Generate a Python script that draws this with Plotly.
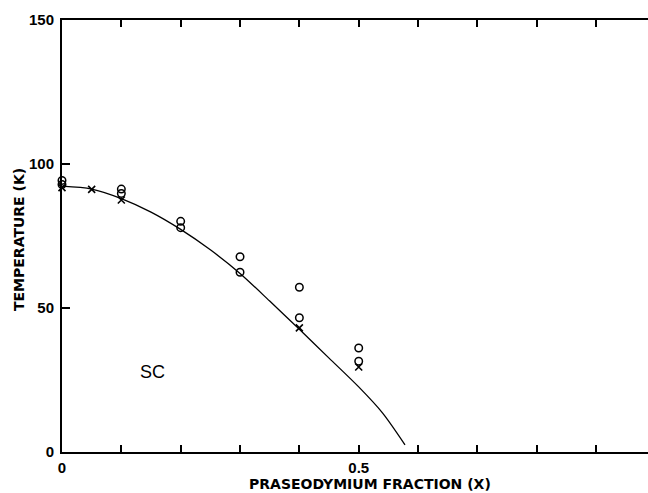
import plotly.graph_objects as go

# Data
circle_x = [0.0, 0.0, 0.1, 0.1, 0.2, 0.2, 0.3, 0.3, 0.4, 0.4, 0.5, 0.5]
circle_y = [94.3, 92.9, 91.3, 89.8, 80.1, 77.9, 67.8, 62.4, 57.2, 46.6, 36.1, 31.5]

cross_x = [0.0, 0.05, 0.1, 0.4, 0.5]
cross_y = [91.8, 91.2, 87.5, 43.1, 29.5]

curve_x = [0.0, 0.05, 0.1, 0.15, 0.2, 0.25, 0.3, 0.35, 0.4, 0.45, 0.5, 0.54, 0.578]
curve_y = [92.3, 91.3, 88.0, 83.3, 77.3, 70.2, 62.0, 52.4, 42.6, 32.6, 22.6, 13.6, 2.5]

x_ticks = [0.0, 0.1, 0.2, 0.3, 0.4, 0.5, 0.6, 0.7, 0.8, 0.9]
x_ticklabels = ["0", "", "", "", "", "0.5", "", "", "", ""]
y_ticks = [0, 50, 100, 150]
y_ticklabels = ["0", "50", "100", "150"]

x_title = "PRASEODYMIUM FRACTION (X)"
y_title = "TEMPERATURE (K)"
region_label = "SC"

fig = go.Figure()
fig.add_trace(go.Scatter(
    x=curve_x, y=curve_y, mode="lines", line=dict(color="black", width=1.3, shape="spline", smoothing=0.8),
    hoverinfo="skip", showlegend=False, cliponaxis=False))
fig.add_trace(go.Scatter(
    x=circle_x, y=circle_y, mode="markers",
    marker=dict(symbol="circle-open", size=7.5, color="black", line=dict(width=1.5)),
    showlegend=False, cliponaxis=False))
fig.add_trace(go.Scatter(
    x=cross_x, y=cross_y, mode="markers",
    marker=dict(symbol="x-thin-open", size=7, color="black", line=dict(width=1.6, color="black")),
    showlegend=False, cliponaxis=False))

tick_font = dict(family="Liberation Sans Narrow, Arial Narrow, Liberation Sans, Arial", size=15,
                 color="black", weight="bold")

L, R, T, B = 62, 0, 20, 41
W, H = 648, 493

fig.update_layout(
    width=W, height=H,
    margin=dict(l=L, r=R, t=T, b=B, pad=0),
    paper_bgcolor="white", plot_bgcolor="white",
    xaxis=dict(range=[0, 0.9875], tickvals=x_ticks, ticktext=x_ticklabels,
               ticks="inside", ticklen=7, tickwidth=2, tickcolor="black",
               showline=True, linewidth=2, linecolor="black", mirror="ticks",
               showgrid=False, zeroline=False, tickfont=tick_font, ticklabelstandoff=1),
    yaxis=dict(range=[0, 150], tickvals=y_ticks, ticktext=y_ticklabels,
               ticks="inside", ticklen=8, tickwidth=2, tickcolor="black",
               showline=True, linewidth=2, linecolor="black",
               showgrid=False, zeroline=False, tickfont=tick_font, ticklabelstandoff=3),
)

pw, ph = W - L - R, H - T - B


def px_to_paper(px, py):
    return (px - L) / pw, (H - B - py) / ph


xt_x, xt_y = px_to_paper(370, 484)
yt_x, yt_y = px_to_paper(19, 240)

fig.add_annotation(text=x_title, x=xt_x, y=xt_y, xref="paper", yref="paper", showarrow=False,
                   xanchor="center", yanchor="middle",
                   font=dict(family="DejaVu Sans", size=14, color="black", weight="bold"))
fig.add_annotation(text=y_title, x=yt_x, y=yt_y, xref="paper", yref="paper", showarrow=False,
                   xanchor="center", yanchor="middle", textangle=-90,
                   font=dict(family="DejaVu Sans", size=14, color="black", weight="bold"))
fig.add_annotation(text=region_label, x=0.153, y=27.8, xref="x", yref="y", showarrow=False,
                   font=dict(family="Liberation Sans, Arial", size=18, color="black"))

fig.write_html("out.html",
               config={"displayModeBar": False},
               post_script="document.body.style.margin='0';document.body.style.overflow='hidden';")
